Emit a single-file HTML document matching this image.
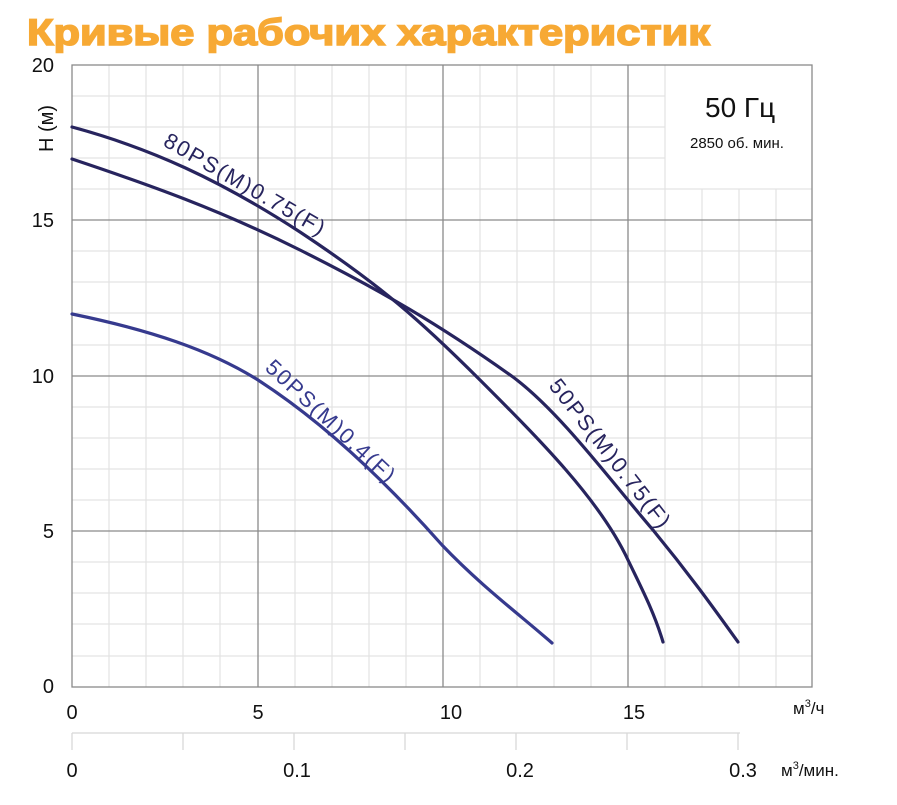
<!DOCTYPE html>
<html><head><meta charset="utf-8"><style>
body{margin:0;background:#fff}
svg{display:block}
text{font-family:"Liberation Sans",sans-serif}
</style></head><body>
<svg width="897" height="805" viewBox="0 0 897 805" xmlns="http://www.w3.org/2000/svg">
<text x="27" y="45" font-size="37" font-weight="bold" fill="#f7a934" stroke="#f7a934" stroke-width="1.6" textLength="683" lengthAdjust="spacingAndGlyphs">Кривые рабочих характеристик</text>
<g stroke="#e3e3e3" stroke-width="1.2">
<line x1="109" y1="65" x2="109" y2="687"/><line x1="146" y1="65" x2="146" y2="687"/><line x1="183" y1="65" x2="183" y2="687"/><line x1="220" y1="65" x2="220" y2="687"/>
<line x1="295" y1="65" x2="295" y2="687"/><line x1="332" y1="65" x2="332" y2="687"/><line x1="369" y1="65" x2="369" y2="687"/><line x1="406" y1="65" x2="406" y2="687"/>
<line x1="480" y1="65" x2="480" y2="687"/><line x1="517" y1="65" x2="517" y2="687"/><line x1="554" y1="65" x2="554" y2="687"/><line x1="591" y1="65" x2="591" y2="687"/>
<line x1="665" y1="189" x2="665" y2="687"/><line x1="702" y1="189" x2="702" y2="687"/><line x1="739" y1="189" x2="739" y2="687"/><line x1="776" y1="189" x2="776" y2="687"/>
<line x1="665" y1="65" x2="665" y2="189"/>
<line x1="72" y1="96" x2="665" y2="96"/><line x1="72" y1="127" x2="665" y2="127"/><line x1="72" y1="158" x2="665" y2="158"/><line x1="72" y1="189" x2="812" y2="189"/>
<line x1="72" y1="251" x2="812" y2="251"/><line x1="72" y1="282" x2="812" y2="282"/><line x1="72" y1="313" x2="812" y2="313"/><line x1="72" y1="345" x2="812" y2="345"/>
<line x1="72" y1="407" x2="812" y2="407"/><line x1="72" y1="438" x2="812" y2="438"/><line x1="72" y1="469" x2="812" y2="469"/><line x1="72" y1="500" x2="812" y2="500"/>
<line x1="72" y1="562" x2="812" y2="562"/><line x1="72" y1="593" x2="812" y2="593"/><line x1="72" y1="624" x2="812" y2="624"/><line x1="72" y1="656" x2="812" y2="656"/>
</g>
<g stroke="#8a8a8a" stroke-width="1.3" fill="none">
<line x1="258" y1="65" x2="258" y2="687"/><line x1="443" y1="65" x2="443" y2="687"/><line x1="628" y1="65" x2="628" y2="687"/>
<line x1="72" y1="220" x2="812" y2="220"/><line x1="72" y1="376" x2="812" y2="376"/><line x1="72" y1="531" x2="812" y2="531"/>
<rect x="72" y="65" width="740" height="622"/>
</g>
<g stroke="#d8d8d8" stroke-width="1.3">
<line x1="72" y1="733" x2="740" y2="733"/>
<line x1="72" y1="733" x2="72" y2="750"/><line x1="183" y1="733" x2="183" y2="750"/><line x1="294" y1="733" x2="294" y2="750"/><line x1="405" y1="733" x2="405" y2="750"/><line x1="516" y1="733" x2="516" y2="750"/><line x1="627" y1="733" x2="627" y2="750"/><line x1="738" y1="733" x2="738" y2="750"/>
</g>
<g fill="none" stroke-width="3.2" stroke-linecap="round">
<path d="M72,127 C150,148 220,180 300,232 C380,285 420,320 480,380 C540,440 600,500 628,560 C645,595 655,615 663,642" stroke="#27245e"/>
<path d="M72,159 C150,185 220,210 300,250 C380,290 440,325 513,377 C560,412 610,480 653,530 C690,575 715,610 738,642" stroke="#27245e"/>
<path d="M72,314 C150,330 210,350 258,380 C320,420 380,475 442,545 C480,585 520,615 552,643" stroke="#363a8e"/>
</g>
<g font-size="22" fill="#27245e">
<text transform="translate(162,145) rotate(30)" textLength="182">80PS(M)0.75(F)</text>
<text transform="translate(548,386) rotate(52)" textLength="182">50PS(M)0.75(F)</text>
<text fill="#363a8e" transform="translate(264,369) rotate(43)" textLength="168">50PS(M)0.4(F)</text>
</g>
<g font-size="20" fill="#111">
<text x="54" y="72" text-anchor="end">20</text>
<text x="54" y="227" text-anchor="end">15</text>
<text x="54" y="383" text-anchor="end">10</text>
<text x="54" y="538" text-anchor="end">5</text>
<text x="54" y="693" text-anchor="end">0</text>
<text transform="translate(53,152) rotate(-90)" font-size="20">H (м)</text>
<text x="72" y="719" text-anchor="middle">0</text>
<text x="258" y="719" text-anchor="middle">5</text>
<text x="451" y="719" text-anchor="middle">10</text>
<text x="634" y="719" text-anchor="middle">15</text>
<text x="793" y="714" font-size="17">м<tspan font-size="11" dy="-7">3</tspan><tspan dy="7">/ч</tspan></text>
<text x="72" y="777" text-anchor="middle">0</text>
<text x="297" y="777" text-anchor="middle">0.1</text>
<text x="520" y="777" text-anchor="middle">0.2</text>
<text x="743" y="777" text-anchor="middle">0.3</text>
<text x="781" y="776" font-size="17">м<tspan font-size="11" dy="-7">3</tspan><tspan dy="7">/мин.</tspan></text>
<text x="705" y="117" font-size="28">50 Гц</text>
<text x="690" y="148" font-size="15">2850 об. мин.</text>
</g>
</svg>
</body></html>
